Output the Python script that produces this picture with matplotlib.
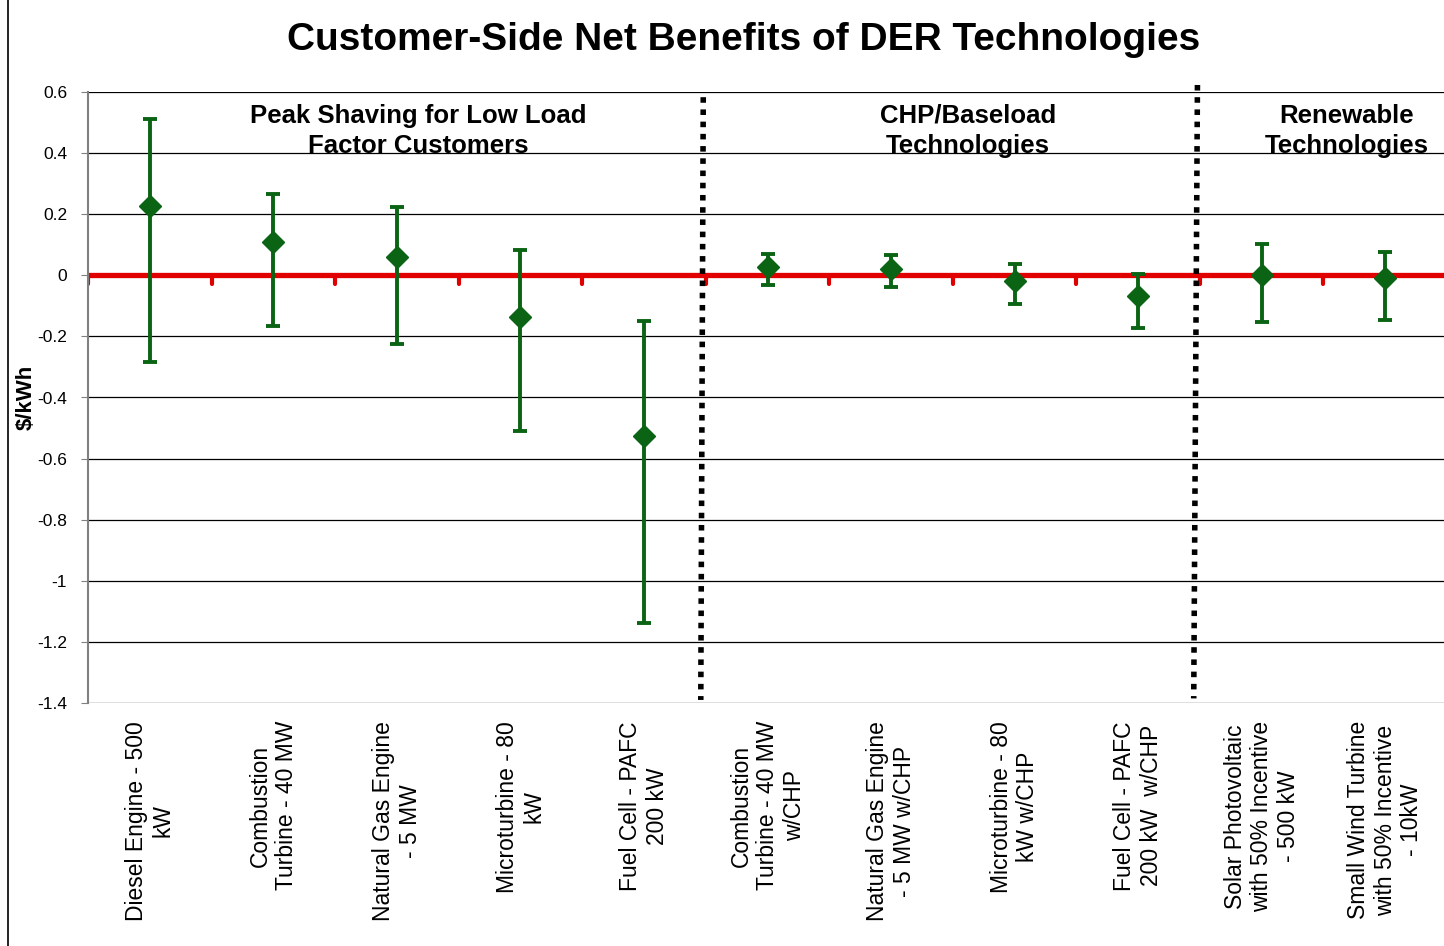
import matplotlib
matplotlib.use("Agg")
import matplotlib.pyplot as plt
from matplotlib.lines import Line2D

plt.rcParams["font.family"] = ["Liberation Sans", "DejaVu Sans"]

# technologies on the x axis
technologies = [
    "Diesel Engine - 500\nkW",
    "Combustion\nTurbine - 40 MW",
    "Natural Gas Engine\n- 5 MW",
    "Microturbine - 80\nkW",
    "Fuel Cell - PAFC\n200 kW",
    "Combustion\nTurbine - 40 MW\nw/CHP",
    "Natural Gas Engine\n- 5 MW w/CHP",
    "Microturbine - 80\nkW w/CHP",
    "Fuel Cell - PAFC\n200 kW  w/CHP",
    "Solar Photovoltaic\nwith 50% Incentive\n- 500 kW",
    "Small Wind Turbine\nwith 50% Incentive\n- 10kW",
]

# net benefit ($/kWh): expected value, high and low estimates
expected = [0.226, 0.108, 0.060, -0.137, -0.525, 0.026, 0.021, -0.019, -0.069, 0.002, -0.010]
high = [0.510, 0.267, 0.224, 0.083, -0.151, 0.069, 0.065, 0.036, 0.005, 0.101, 0.077]
low = [-0.284, -0.165, -0.226, -0.509, -1.139, -0.031, -0.039, -0.093, -0.171, -0.154, -0.145]

group_labels = ["Peak Shaving for Low Load\nFactor Customers", "CHP/Baseload\nTechnologies", "Renewable\nTechnologies"]
group_centers = [2.17, 6.62, 9.69]
dividers = [4.48, 8.48]

yticks = [0.6, 0.4, 0.2, 0, -0.2, -0.4, -0.6, -0.8, -1, -1.2, -1.4]

fig = plt.figure(figsize=(14.44, 9.46), dpi=100)
ax = fig.add_axes([88 / 1444, 1 - 703 / 946, 1359 / 1444, 611 / 946])

x = list(range(len(technologies)))

# grid
for t in yticks:
    ax.axhline(t, color="#000000", lw=0.9, zorder=1)

# red zero line with tick marks between categories
ax.axhline(0, color="#e00000", lw=3.8, zorder=2)
bounds = [i - 0.5 for i in range(len(technologies))]
ax.vlines(bounds, -0.03, 0, color="#e00000", lw=3.0, zorder=2, capstyle="round")

# error bars
err_lo = [e - l for e, l in zip(expected, low)]
err_hi = [h - e for e, h in zip(expected, high)]
green = "#0a6414"
ax.errorbar(x, expected, yerr=[err_lo, err_hi], fmt="D", color=green, ms=11,
            ecolor=green, elinewidth=2.8, capsize=5, capthick=2.8, zorder=4)

# dotted dividers
ax.plot([dividers[0], dividers[0] - 0.02], [0.583, -1.39], color="black", lw=4,
        linestyle=(0, (1, 1.2)), zorder=3)
ax.plot([dividers[1], dividers[1] - 0.03], [0.623, -1.385], color="black", lw=4,
        linestyle=(0, (1, 1.2)), zorder=3, clip_on=False)

for cx, lab in zip(group_centers, group_labels):
    ax.text(cx, 0.562, lab, ha="center", va="top", fontsize=18.5, fontweight="bold",
            linespacing=1.33, zorder=5)

ax.set_xlim(-0.5, 10.5)
ax.set_ylim(-1.4, 0.6)
ax.set_yticks(yticks)
ax.set_yticklabels([f"{t:g}" for t in yticks], fontsize=12.5)
ax.tick_params(axis="y", length=5, color="#808080", pad=10)
ax.set_xticks(x)
ax.set_xticklabels(technologies, rotation=90, fontsize=16.5, ha="center", va="top",
                   multialignment="center", linespacing=1.2)
ax.tick_params(axis="x", length=0, pad=13)

for s in ["top", "right", "bottom"]:
    ax.spines[s].set_visible(False)
ax.spines["left"].set_color("#808080")
ax.spines["left"].set_linewidth(1.5)

ax.set_ylabel("$/kWh", fontsize=16, fontweight="bold")
ax.yaxis.set_label_coords(-0.038, 0.5)

fig.text(0.515, 0.958, "Customer-Side Net Benefits of DER Technologies", ha="center",
         va="center", fontsize=28, fontweight="bold")

fig.add_artist(Line2D([8 / 1444, 8 / 1444], [0, 1], color="black", lw=1.2))

fig.savefig("out.png", dpi=100)
